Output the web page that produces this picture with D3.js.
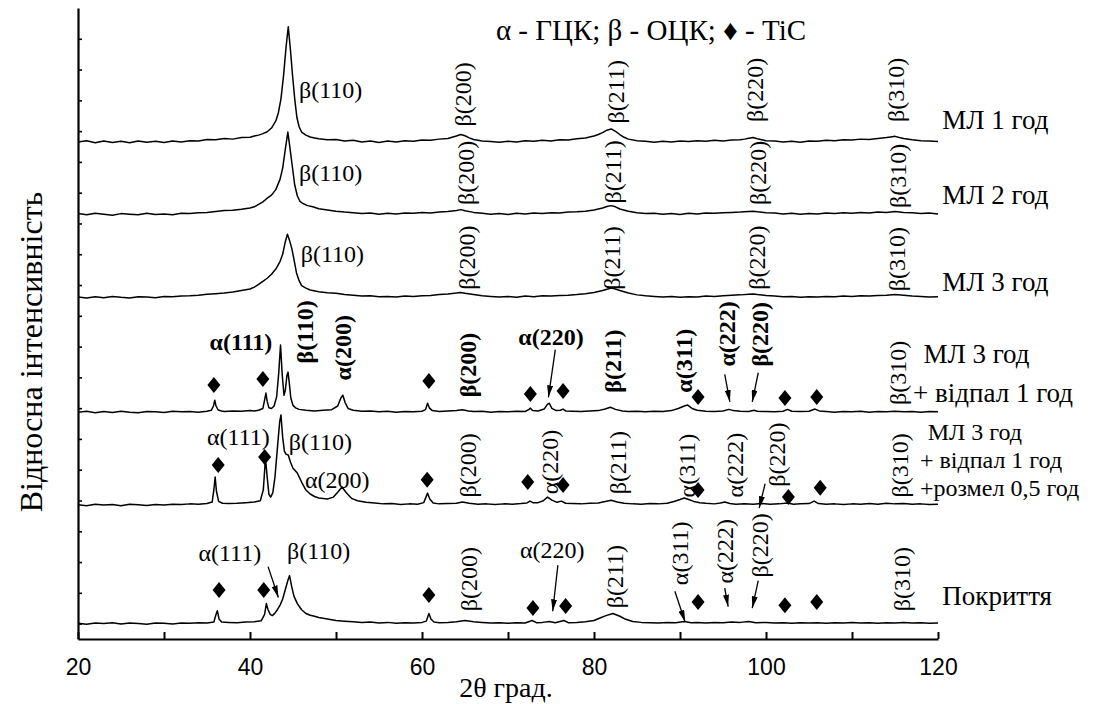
<!DOCTYPE html>
<html>
<head>
<meta charset="utf-8">
<script src="https://cdn.jsdelivr.net/npm/d3@7"></script>
<style>
  body { margin: 0; background: #fff; }
  svg { display: block; }
  .serif { font-family: "Liberation Serif", "Times New Roman", Times, "DejaVu Serif", serif; }
</style>
</head>
<body>
<svg width="1110" height="704"></svg>
<script>
// x axis ticks (2θ, degrees)
const xMajorTicks = [20, 40, 60, 80, 100, 120];
const xAllTicks = [20, 30, 40, 50, 60, 70, 80, 90, 100, 110, 120];
const yTicks = d3.range(0, 2000, 100);

// sample names (right side), one list of lines per pattern
const sampleNames = [
  ["МЛ 1 год"],
  ["МЛ 2 год"],
  ["МЛ 3 год"],
  ["МЛ 3 год", "+ відпал 1 год"],
  ["МЛ 3 год", "+ відпал 1 год", "+розмел 0,5 год"],
  ["Покриття"]
];
// vertical offset of every pattern (counts)
const offsets = [1565, 1330, 1060, 687, 385, 0];

// patterns: [2θ, intensity above own baseline]
const ml1 = [[20,0],[21,4],[22,-3],[23,3],[24,-2],[25,2],[26,-3],[27,3],[28,-1],[29,2],[30,-2],[31,3],[32,0],[33,4],[34,3],[35,8],[36,7],[37,11],[38,9],[39,14],[40,15],[40.5,19],[41,22],[41.5,27],[42,33],[42.5,45],[43,68],[43.3,95],[43.6,140],[43.9,215],[44.2,310],[44.45,374],[44.7,300],[44.95,215],[45.2,140],[45.45,80],[45.7,50],[46,32],[46.5,22],[47,16],[47.5,13],[48,10],[49,7],[50,8],[51,3],[52,5],[53,0],[54,3],[55,-2],[56,3],[57,0],[58,4],[59,2],[60,6],[61,5],[62,9],[63,11],[63.5,15],[64,19],[64.5,24],[65,20],[65.5,13],[66,8],[67,3],[68,1],[69,-1],[70,2],[71,0],[72,4],[73,2],[74,5],[75,3],[76,7],[77,6],[78,10],[79,13],[80,19],[80.5,24],[81,30],[81.5,38],[82,42],[82.5,34],[83,24],[83.5,15],[84,9],[85,4],[86,2],[87,-1],[88,2],[89,0],[90,3],[91,1],[92,4],[93,2],[94,5],[95,3],[96,6],[97,7],[97.5,9],[98,12],[98.5,14],[99,10],[99.5,7],[100,4],[101,3],[102,0],[103,2],[104,-1],[105,3],[106,2],[107,5],[108,4],[109,7],[110,6],[111,9],[112,8],[113,11],[114,14],[114.5,16],[115,18],[115.5,14],[116,11],[117,7],[118,4],[119,3],[120,1]];

const ml2 = [[20,2],[21,-2],[22,3],[23,0],[24,-3],[25,2],[26,0],[27,-2],[28,3],[29,-1],[30,1],[31,-2],[32,3],[33,2],[34,5],[35,6],[36,9],[37,12],[38,13],[39,16],[40,20],[40.5,24],[41,32],[41.5,40],[42,52],[42.5,62],[43,80],[43.5,114],[43.8,150],[44.1,210],[44.4,267],[44.65,215],[44.9,160],[45.2,95],[45.5,60],[45.8,42],[46.2,34],[46.7,28],[47.3,24],[48,18],[49,14],[50,10],[51,7],[52,5],[53,2],[54,4],[55,0],[56,3],[57,1],[58,4],[59,3],[60,6],[61,4],[62,7],[63,9],[64,12],[64.5,15],[65,11],[66,6],[67,3],[68,0],[69,2],[70,-1],[71,3],[72,1],[73,4],[74,2],[75,5],[76,4],[77,7],[78,8],[79,10],[80,14],[81,20],[81.5,25],[82,28],[82.5,24],[83,17],[84,10],[85,5],[86,2],[87,3],[88,0],[89,2],[90,-1],[91,3],[92,1],[93,4],[94,3],[95,5],[96,6],[97,7],[98,9],[98.5,10],[99,8],[100,5],[101,4],[102,1],[103,3],[104,0],[105,2],[106,1],[107,4],[108,2],[109,5],[110,3],[111,6],[112,4],[113,7],[114,6],[115,9],[116,6],[117,5],[118,2],[119,4],[120,1]];

const ml3 = [[20,1],[21,-2],[22,2],[23,-1],[24,3],[25,0],[26,-2],[27,2],[28,1],[29,-1],[30,3],[31,2],[32,4],[33,5],[34,7],[35,10],[36,12],[37,14],[38,17],[39,22],[40,27],[40.5,33],[41,42],[41.5,52],[42,62],[42.5,75],[43,92],[43.5,117],[43.8,140],[44.1,180],[44.35,205],[44.6,185],[44.85,160],[45.1,125],[45.4,80],[45.7,55],[46,38],[46.5,30],[47,24],[48,18],[49,15],[50,13],[51,9],[52,7],[53,4],[54,5],[55,2],[56,3],[57,1],[58,4],[59,3],[60,5],[61,6],[62,9],[63,11],[64,14],[64.5,16],[65,13],[66,9],[67,5],[68,3],[69,1],[70,3],[71,0],[72,4],[73,2],[74,5],[75,4],[76,6],[77,7],[78,9],[79,12],[80,16],[81,22],[81.5,26],[82,30],[82.5,27],[83,22],[84,14],[85,8],[86,5],[87,3],[88,1],[89,3],[90,0],[91,2],[92,1],[93,4],[94,3],[95,5],[96,7],[97,8],[98,10],[98.5,11],[99,9],[100,6],[101,4],[102,2],[103,3],[104,0],[105,2],[106,1],[107,3],[108,2],[109,4],[110,3],[111,5],[112,4],[113,6],[114,7],[115,9],[116,7],[117,4],[118,3],[119,1],[120,2]];

const annealed = [[20,0],[21,3],[22,-2],[23,2],[24,-1],[25,3],[26,0],[27,-2],[28,2],[29,1],[30,-1],[31,3],[32,1],[33,2],[34,0],[35,3],[35.5,6],[35.75,20],[35.9,39],[36.05,20],[36.3,7],[36.7,4],[37,2],[38,4],[39,3],[40,5],[40.5,4],[41,6],[41.5,12],[41.7,40],[41.85,62],[42,35],[42.2,14],[42.5,12],[42.8,20],[43.1,50],[43.35,130],[43.55,218],[43.75,120],[43.95,55],[44.1,70],[44.3,120],[44.42,130],[44.55,100],[44.75,45],[45,22],[45.3,14],[45.7,9],[46.5,6],[47.5,4],[48.5,6],[49.5,8],[50.2,20],[50.55,45],[50.8,55],[51.05,32],[51.4,12],[52,6],[53,3],[54,4],[55,1],[56,3],[57,0],[58,2],[59,1],[60,3],[60.4,8],[60.65,29],[60.85,14],[61.2,5],[62,2],[63,4],[64,5],[64.7,8],[65.4,4],[66,2],[67,3],[68,0],[69,2],[70,1],[71,3],[72,2],[72.4,8],[72.6,13],[72.85,5],[73.5,4],[74.2,10],[74.6,26],[74.8,29],[75.1,12],[75.6,5],[76.1,6],[76.4,10],[76.7,4],[77.5,3],[78.5,2],[79.5,4],[80.5,5],[81.3,10],[81.9,16],[82.5,9],[83.3,4],[84,2],[85,3],[86,1],[87,3],[88,2],[89,5],[89.8,12],[90.5,20],[90.9,23],[91.4,12],[92,6],[93,3],[94,2],[95,4],[95.7,9],[96.2,5],[97,3],[98,2],[98.6,6],[99,3],[100,2],[101,1],[102,3],[102.5,9],[103,3],[104,2],[105,3],[105.7,10],[106.2,4],[107,2],[108,0],[109,2],[110,1],[111,3],[112,0],[113,2],[114,1],[115,3],[116,1],[117,2],[118,0],[119,2],[120,1]];

const milled = [[20,1],[21,-2],[22,3],[23,0],[24,2],[25,-2],[26,3],[27,1],[28,-1],[29,2],[30,0],[31,3],[32,2],[33,4],[34,3],[35,5],[35.6,10],[35.8,50],[35.95,91],[36.1,45],[36.35,12],[36.8,6],[37.5,5],[38.5,6],[39.5,8],[40.5,10],[41.2,14],[41.55,50],[41.8,153],[42,90],[42.2,35],[42.4,26],[42.65,40],[42.9,90],[43.2,190],[43.45,270],[43.6,293],[43.8,220],[44,175],[44.2,165],[44.45,163],[44.7,140],[45,120],[45.5,104],[46,75],[46.5,49],[47,36],[47.5,28],[48,23],[49,20],[49.7,26],[50.2,42],[50.7,59],[51.2,40],[51.8,22],[52.5,14],[53.5,9],[54.5,7],[55.5,4],[56.5,5],[57.5,2],[58.5,4],[59.5,3],[60.2,8],[60.45,25],[60.65,39],[60.9,20],[61.3,7],[62,4],[63,5],[64,6],[64.7,10],[65.5,6],[66.5,3],[67.5,4],[68.5,2],[69.5,4],[70.5,3],[71.5,5],[72.2,7],[72.55,13],[72.9,8],[73.5,8],[74.1,14],[74.6,26],[75.1,16],[75.7,9],[76.2,13],[76.7,6],[77.5,5],[78.5,4],[79.5,6],[80.5,7],[81.3,12],[82,16],[82.7,10],[83.5,6],[84.5,4],[85.5,3],[86.5,5],[87.5,4],[88.5,6],[89.3,12],[90,18],[90.5,23],[91,18],[91.6,12],[92.3,8],[93,6],[94,4],[94.7,7],[95.2,10],[95.8,5],[96.5,3],[97.5,4],[98.5,3],[99.5,5],[100.5,3],[101.5,4],[102.5,7],[103.2,3],[104,4],[105,5],[105.6,13],[106.1,5],[107,3],[108,4],[109,2],[110,4],[111,3],[112,5],[113,3],[114,6],[115,4],[116,5],[117,3],[118,4],[119,2],[120,3]];

const coating = [[20,1],[21,-2],[22,2],[23,0],[24,3],[25,-1],[26,2],[27,0],[28,-2],[29,2],[30,1],[31,-1],[32,2],[33,1],[34,3],[35,2],[35.8,5],[36.05,30],[36.2,42],[36.4,15],[36.7,5],[37.5,4],[38.5,3],[39.5,5],[40.5,6],[41.3,9],[41.7,30],[41.9,65],[42.1,45],[42.35,30],[42.6,26],[42.9,34],[43.2,46],[43.5,60],[43.8,80],[44.1,110],[44.4,140],[44.6,156],[44.85,120],[45.1,90],[45.5,65],[46,45],[46.5,33],[47,27],[47.5,24],[48,20],[49,15],[50,10],[51,8],[52,6],[53,4],[54,5],[55,2],[56,4],[57,1],[58,3],[59,2],[60,4],[60.5,8],[60.8,33],[61.05,14],[61.4,5],[62,3],[63,4],[64,6],[65,10],[66,6],[67,4],[68,2],[69,3],[70,1],[71,3],[72,2],[72.8,10],[73.3,3],[74,4],[74.8,7],[75.5,3],[76.5,10],[77,3],[78,4],[79,6],[80,10],[80.7,18],[81.4,26],[82.2,33],[83,24],[83.7,14],[84.5,7],[85.5,4],[86.5,3],[87.5,2],[88.5,4],[89.5,3],[90.5,7],[91.3,3],[92,4],[93,2],[94,4],[95,3],[96,5],[97,4],[98,7],[98.8,3],[100,4],[101,2],[102,3],[103,1],[104,3],[105,2],[106,3],[107,1],[108,3],[109,2],[110,4],[111,2],[112,3],[113,1],[114,3],[115,2],[116,4],[117,2],[118,3],[119,1],[120,2]];

const patterns = [ml1, ml2, ml3, annealed, milled, coating];

// TiC reflections marked with diamonds: [2θ, counts]
const ticMarks = [
  [35.8,775],[41.5,795],[60.8,788],[72.6,746],[76.4,756],[92.1,736],[102.2,733],[105.9,736],
  [36.3,515],[41.7,541],[60.6,467],[72.3,460],[76.4,450],[92.1,434],[102.6,411],[106.3,441],
  [36.4,109],[41.6,109],[60.8,93],[72.9,51],[76.7,57],[92.1,70],[102.2,60],[105.9,70]
];

// horizontal peak labels: [text, 2θ, counts, bold]
const flatLabels = [
  ["β(110)", 45.7, 1735, false],
  ["β(110)", 45.7, 1465, false],
  ["β(110)", 45.9, 1200, false],
  ["α(111)", 35.3, 915, true],
  ["α(220)", 71.2, 930, true],
  ["α(111)", 35.0, 605, false],
  ["β(110)", 44.5, 590, false],
  ["α(200)", 46.4, 465, false],
  ["α(111)", 34.0, 230, false],
  ["β(110)", 44.3, 235, false],
  ["α(220)", 71.4, 240, false]
];

// vertical peak labels: [text, 2θ, counts at text start, bold]
const upLabels = [
  ["β(200)", 64.8, 1615, false], ["β(211)", 82.6, 1625, false], ["β(220)", 98.7, 1630, false], ["β(310)", 115.1, 1630, false],
  ["β(200)", 65.1, 1360, false], ["β(211)", 82.2, 1365, false], ["β(220)", 99.1, 1360, false], ["β(310)", 115.3, 1350, false],
  ["β(200)", 65.2, 1085, false], ["β(211)", 82.1, 1085, false], ["β(220)", 99.0, 1085, false], ["β(310)", 115.2, 1080, false],
  ["β(110)", 46.4, 845, true], ["α(200)", 50.8, 790, true], ["β(200)", 65.3, 735, true], ["β(211)", 82.2, 750, true],
  ["α(311)", 90.5, 750, true], ["α(222)", 95.5, 835, true], ["β(220)", 99.3, 835, true], ["β(310)", 115.3, 710, false],
  ["β(200)", 65.3, 410, false], ["α(220)", 74.9, 420, false], ["β(211)", 82.8, 420, false], ["α(311)", 90.8, 410, false],
  ["α(222)", 96.4, 410, false], ["β(220)", 101.3, 445, false], ["β(310)", 115.6, 410, false],
  ["β(200)", 65.5, 40, false], ["β(211)", 82.4, 50, false], ["α(311)", 90.0, 125, false],
  ["α(222)", 95.2, 130, false], ["β(220)", 99.3, 150, false], ["β(310)", 115.8, 40, false]
];

// arrows from label to peak: [2θ from, counts from, 2θ to, counts to]
const arrows = [
  [75.5, 890, 74.7, 735], [95.2, 810, 95.8, 720], [99.1, 815, 98.4, 720],
  [99.9, 455, 99.2, 375],
  [42.1, 185, 43.3, 85], [75.8, 190, 75.2, 40], [89.4, 105, 90.6, 5], [95.2, 115, 95.6, 55], [99.1, 140, 98.4, 50]
];

// name positions: [2θ of first char, counts of each line]
const namePos = [
  [[120.5, 1636]],
  [[120.5, 1393]],
  [[120.5, 1110]],
  [[118.3, 875], [117.1, 748]],
  [[118.8, 622], [117.9, 532], [117.9, 442]],
  [[120.5, 90]]
];

const sans = "'Liberation Sans', Arial, sans-serif";

const svg = d3.select("svg");
const x = d3.scaleLinear().domain([20, 120]).range([78, 938]);
const y = d3.scaleLinear().domain([-50, 2000]).range([639, 8]);

// axes
const gx = svg.append("g")
  .attr("transform", "translate(0,639)")
  .call(d3.axisBottom(x).tickValues(xAllTicks).tickSizeInner(-7).tickSizeOuter(0).tickPadding(20)
    .tickFormat(d => xMajorTicks.includes(d) ? d : ""));
gx.select(".domain").attr("stroke-width", 2.2);
gx.selectAll(".tick line").attr("stroke-width", 2);
gx.selectAll("text").attr("font-family", sans).attr("font-size", 23).attr("fill", "#000");

const gy = svg.append("g")
  .attr("transform", "translate(78,0)")
  .call(d3.axisLeft(y).tickValues(yTicks).tickSizeInner(-4).tickSizeOuter(0).tickFormat(""));
gy.select(".domain").attr("stroke-width", 2.2);
gy.selectAll(".tick line").attr("stroke-width", 1.6);

// patterns
const line = d3.line();
patterns.forEach((p, i) => {
  svg.append("path")
    .attr("d", line.x(d => x(d[0])).y(d => y(d[1] + offsets[i]))(p))
    .attr("fill", "none")
    .attr("stroke", "#000")
    .attr("stroke-width", 1.5)
    .attr("stroke-linejoin", "round");
});

// TiC diamonds
svg.selectAll(".tic")
  .data(ticMarks)
  .enter().append("path")
  .attr("class", "tic")
  .attr("transform", d => "translate(" + x(d[0]) + "," + y(d[1]) + ")")
  .attr("d", "M0,-8L6.5,0L0,8L-6.5,0Z")
  .attr("fill", "#000");

// labels
svg.selectAll(".flat")
  .data(flatLabels)
  .enter().append("text")
  .attr("class", "serif")
  .attr("x", d => x(d[1]))
  .attr("y", d => y(d[2]))
  .attr("dominant-baseline", "central")
  .attr("font-size", 24)
  .attr("font-weight", d => d[3] ? "bold" : "normal")
  .text(d => d[0]);

svg.selectAll(".up")
  .data(upLabels)
  .enter().append("text")
  .attr("class", "serif")
  .attr("transform", d => "translate(" + x(d[1]) + "," + y(d[2]) + ") rotate(-90)")
  .attr("dominant-baseline", "central")
  .attr("font-size", 24)
  .attr("font-weight", d => d[3] ? "bold" : "normal")
  .text(d => d[0]);

// arrows
svg.append("defs").append("marker")
  .attr("id", "head")
  .attr("viewBox", "0 -3 12 6")
  .attr("refX", 12).attr("refY", 0)
  .attr("markerWidth", 12).attr("markerHeight", 6)
  .attr("markerUnits", "userSpaceOnUse")
  .attr("orient", "auto")
  .append("path").attr("d", "M0,-3L12,0L0,3Z").attr("fill", "#000");

svg.selectAll(".arrow")
  .data(arrows)
  .enter().append("line")
  .attr("class", "arrow")
  .attr("x1", d => x(d[0])).attr("y1", d => y(d[1]))
  .attr("x2", d => x(d[2])).attr("y2", d => y(d[3]))
  .attr("stroke", "#000").attr("stroke-width", 1.3)
  .attr("marker-end", "url(#head)");

// sample names
sampleNames.forEach((lines, i) => {
  lines.forEach((t, j) => {
    svg.append("text")
      .attr("class", "serif")
      .attr("x", x(namePos[i][j][0]))
      .attr("y", y(namePos[i][j][1]))
      .attr("dominant-baseline", "central")
      .attr("font-size", i === 4 ? 24 : 27)
      .text(t);
  });
});

// phase key
svg.append("text")
  .attr("class", "serif")
  .attr("x", 651).attr("y", 30)
  .attr("text-anchor", "middle")
  .attr("dominant-baseline", "central")
  .attr("font-size", 29)
  .text("α - ГЦК; β - ОЦК; ♦ - TiC");

// axis titles
svg.append("text")
  .attr("class", "serif")
  .attr("x", 506).attr("y", 697)
  .attr("text-anchor", "middle")
  .attr("font-size", 28)
  .text("2θ град.");

svg.append("text")
  .attr("class", "serif")
  .attr("transform", "translate(31,352) rotate(-90)")
  .attr("text-anchor", "middle")
  .attr("dominant-baseline", "central")
  .attr("font-size", 32)
  .text("Відносна інтенсивність");
</script>
</body>
</html>
